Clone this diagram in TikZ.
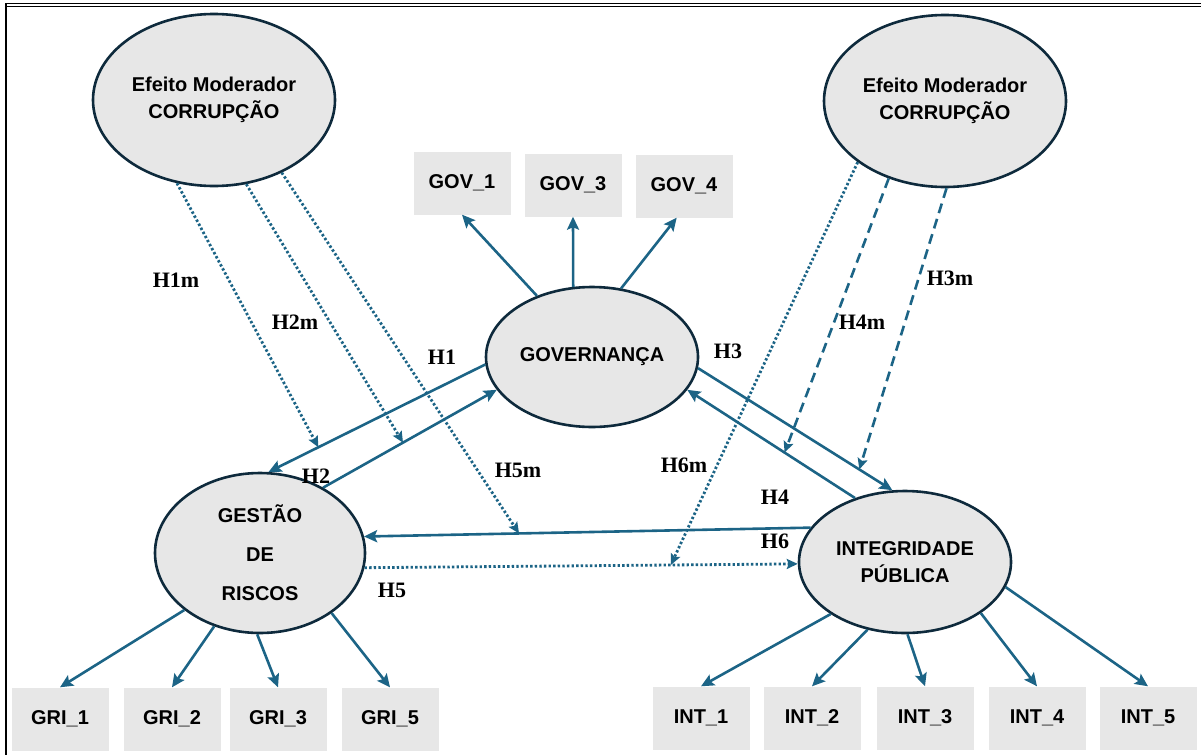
\documentclass[tikz,border=0pt]{standalone}
\usepackage{fontspec}
\setmainfont{Liberation Serif}
\setsansfont{Liberation Sans}
\usetikzlibrary{shapes.geometric,arrows.meta}

\definecolor{linkblue}{RGB}{28,100,134}
\definecolor{rimnavy}{RGB}{14,42,60}
\definecolor{paleGray}{RGB}{231,231,231}

\begin{document}
\begin{tikzpicture}[x=1pt,y=-1pt,
  latent/.style={ellipse, draw=rimnavy, line width=2.6pt, fill=paleGray,
    inner sep=0pt, align=center,
    font=\sffamily\bfseries\fontsize{20}{27}\selectfont},
  indicator/.style={rectangle, fill=paleGray, minimum width=97pt,
    minimum height=63pt, inner sep=0pt,
    font=\sffamily\bfseries\fontsize{20}{24}\selectfont},
  load/.style={draw=linkblue, line width=2.6pt,
    -{Stealth[length=13pt,width=12pt,inset=2.5pt]}},
  moddot/.style={draw=linkblue, line width=2.8pt, dash pattern=on 2.4pt off 2.2pt,
    -{Stealth[length=11pt,width=10pt,inset=2pt]}},
  moddash/.style={draw=linkblue, line width=2.6pt, dash pattern=on 10pt off 6pt,
    -{Stealth[length=11pt,width=10pt,inset=2pt]}},
  hyp/.style={font=\bfseries\fontsize{22}{26}\selectfont, inner sep=0pt}
]
\useasboundingbox (0,0) rectangle (1201,755);

% page frame
\draw[line width=1pt] (5,3) -- (1201,3);
\draw[line width=1pt] (5,6) -- (1201,6);
\draw[line width=2pt] (6,3) -- (6,755);

% latent constructs
\node[latent, minimum width=242pt, minimum height=172pt] (modL) at (214,100) {Efeito Moderador\\CORRUPÇÃO};
\node[latent, minimum width=242pt, minimum height=172pt] (modR) at (945,101) {Efeito Moderador\\CORRUPÇÃO};
\node[latent, minimum width=212pt, minimum height=140pt] (gov) at (592,357) {GOVERNANÇA};
\node[latent, minimum width=210pt, minimum height=160pt] (gest) at (260,553) {GESTÃO\\[12pt]DE\\[12pt]RISCOS};
\node[latent, minimum width=212pt, minimum height=142pt] (int) at (905,562) {INTEGRIDADE\\PÚBLICA};

% indicators
\node[indicator] (gov1) at (462,183) {GOV\_1};
\node[indicator] (gov3) at (573,185) {GOV\_3};
\node[indicator] (gov4) at (684,186) {GOV\_4};
\node[indicator] (gri1) at (60,719) {GRI\_1};
\node[indicator] (gri2) at (172,719) {GRI\_2};
\node[indicator] (gri3) at (278,719) {GRI\_3};
\node[indicator] (gri5) at (390,719) {GRI\_5};
\node[indicator] (int1) at (701,718) {INT\_1};
\node[indicator] (int2) at (812,718) {INT\_2};
\node[indicator] (int3) at (925,718) {INT\_3};
\node[indicator] (int4) at (1037,718) {INT\_4};
\node[indicator] (int5) at (1148,718) {INT\_5};

% measurement loadings
\draw[load] (gov.132) -- (gov1.south);
\draw[load] (gov.105) -- (gov3.south);
\draw[load] (gov.67) -- (gov4.257);
\draw[load] (gest.217) -- (gri1.north);
\draw[load] (gest.238) -- (gri2.north);
\draw[load] (gest.268) -- (gri3.north);
\draw[load] (gest.320) -- (gri5.north);
\draw[load] (int.215) -- (int1.north);
\draw[load] (int.241) -- (int2.north);
\draw[load] (int.272) -- (int3.north);
\draw[load] (int.326) -- (int4.north);
\draw[load] (int.346) -- (int5.north);

% structural paths
\draw[load] (gov.184) -- coordinate[pos=0.77] (h1mTip) (gest.84);
\draw[load] (gest.46) -- coordinate[pos=0.46] (h2mTip) (gov.199);
\draw[load] (gov.354) -- coordinate[pos=0.83] (h3mTip) (int.100);
\draw[load] (int.128) -- coordinate[pos=0.42] (h4mTip) (gov.341);
\draw[load] (int.160) -- coordinate[pos=0.653] (h5mTip) (gest.9);
\draw[moddot] (gest.352) -- coordinate[pos=0.707] (h6mTip) (int.181);

% moderating effects
\draw[moddot] (modL.246) -- (h1mTip);
\draw[moddot] (modL.291) -- (h2mTip);
\draw[moddot] (modL.313) -- (h5mTip);
\draw[moddot] (modR.215) -- (h6mTip);
\draw[moddash] (modR.234) -- (h4mTip);
\draw[moddash] (modR.271) -- (h3mTip);

% hypothesis labels
\node[hyp] (lH1m) at (176,280) {H1m};
\node[hyp] (lH2m) at (295,322) {H2m};
\node[hyp] (lH1) at (442,357) {H1};
\node[hyp] (lH2) at (316,476) {H2};
\node[hyp] (lH5m) at (518,470) {H5m};
\node[hyp] (lH5) at (392,590) {H5};
\node[hyp] (lH3) at (728,351) {H3};
\node[hyp] (lH4m) at (862,322) {H4m};
\node[hyp] (lH3m) at (950,278) {H3m};
\node[hyp] (lH6m) at (684,465) {H6m};
\node[hyp] (lH4) at (775,497) {H4};
\node[hyp] (lH6) at (775,541) {H6};
\end{tikzpicture}
\end{document}
